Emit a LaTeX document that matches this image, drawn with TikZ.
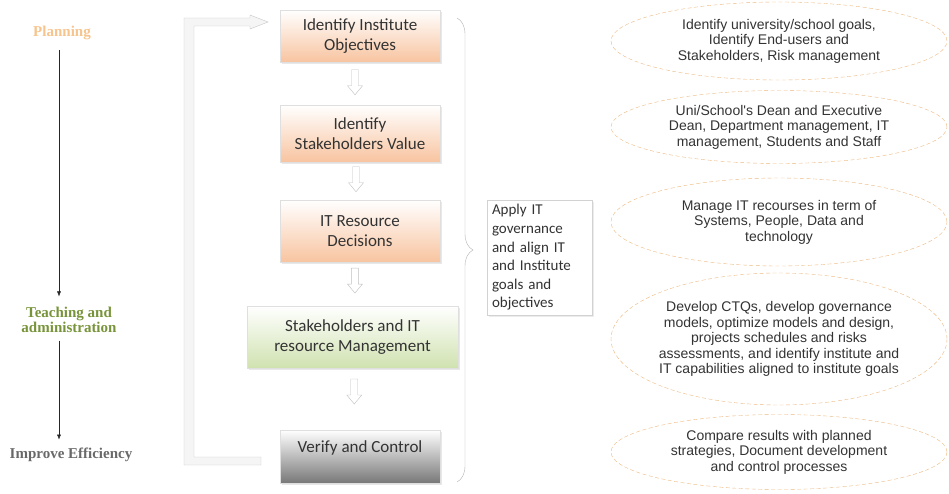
\documentclass[tikz,border=0pt]{standalone}
\usepackage{fontspec}
\setmainfont{Liberation Serif}
\newfontfamily\boxfont{Carlito}
\newfontfamily\notefont{Liberation Sans}
\usetikzlibrary{arrows.meta,positioning,shapes.geometric,shadows,decorations.pathreplacing,calc}

\definecolor{peach}{RGB}{248,196,160}
\definecolor{leaf}{RGB}{208,226,176}
\definecolor{steel}{RGB}{120,120,120}
\definecolor{dashorange}{RGB}{236,184,128}
\definecolor{planc}{RGB}{246,196,140}
\definecolor{teachc}{RGB}{120,148,58}
\definecolor{effc}{RGB}{105,105,105}

% hollow block arrow pointing down, centred on a named coordinate
\newcommand\hollowdown[1]{%
  \draw[gray!50,fill=white] (#1) ++(-3.5,-12) -- ++(7,0) -- ++(0,16) -- ++(4,0)
    -- ++(-7.5,9) -- ++(-7.5,-9) -- ++(4,0) -- cycle;}

\begin{document}
\begin{tikzpicture}[x=1pt,y=-1pt,>=Latex,
  stage/.style={draw=gray!25,minimum width=160pt,align=center,text=black!80,
    font=\boxfont\fontsize{17}{20}\selectfont,inner sep=2pt,
    drop shadow={opacity=0.18,shadow xshift=2pt,shadow yshift=-2pt}},
  orangestage/.style={stage,top color=white,bottom color=peach},
  greenstage/.style={stage,top color=white,bottom color=leaf},
  graystage/.style={stage,top color=white,bottom color=steel},
  note/.style={ellipse,draw=dashorange,dash pattern=on 4pt off 2.5pt,minimum width=336pt,align=center,
    font=\notefont\fontsize{14}{15.6}\selectfont,text=black!80,inner xsep=-8pt,inner ysep=0pt},
  phase/.style={font=\bfseries\fontsize{15}{15.5}\selectfont,align=center},
  flow/.style={->,black!85,>={Latex[length=5pt,width=4pt]}}
]
\useasboundingbox (0,0) rectangle (949,494);

% phases on the left
\node[phase,text=planc] (plan) at (62,33) {Planning};
\node[phase,text=teachc] (teach) at (69,320) {Teaching and\\administration};
\node[phase,text=effc] (eff) at (71,455) {Improve Efficiency};
\coordinate (ax) at (59,0);
\draw[flow,shorten <=7pt,shorten >=7pt] (plan.south -| ax) -- (teach.north -| ax);
\draw[flow,shorten <=4pt,shorten >=5pt] (teach.south -| ax) -- (eff.north -| ax);

% feedback band
\draw[gray!45,fill=gray!8] (184,18) -- (250,18) -- (250,15) -- (268,22) -- (250,29)
  -- (250,26) -- (194,26) -- (194,457) -- (261,457) -- (261,465) -- (184,465) -- cycle;

% process steps
\node[orangestage,minimum height=52pt] (b1) at (360,36) {Identify Institute\\Objectives};
\node[orangestage,minimum height=57pt] (b2) at (360,133.5) {Identify\\Stakeholders Value};
\node[orangestage,minimum height=62pt] (b3) at (360,231) {IT Resource\\Decisions};
\node[greenstage,minimum width=211pt,minimum height=62pt] (b4) at (352.5,337) {Stakeholders and IT\\resource Management};
\node[graystage,minimum height=53pt] (b5) at (360,456.5) {Verify and Control\\\phantom{V}};

\path (b1.south) -- (b2.north) coordinate[pos=0.46,xshift=-5pt] (a1);
\path (b2.south) -- (b3.north) coordinate[pos=0.44,xshift=-4pt] (a2);
\path (b3.south) -- (b4.north) coordinate[pos=0.41,xshift=-2pt] (a3);
\path (b4.south) -- (b5.north) coordinate[pos=0.37,xshift=-1pt] (a4);
\foreach \a in {a1,a2,a3,a4} {\hollowdown{\a}}

% brace and governance note
\draw[gray!60,decorate,decoration={brace,amplitude=16pt}] (457,18) -- (457,482);
\node[draw=gray!35,fill=white,minimum width=105pt,minimum height=115pt,align=left,
  text width=95pt,font=\boxfont\fontsize{15}{18.6}\selectfont,text=black!80,
  drop shadow={opacity=0.15,shadow xshift=2pt,shadow yshift=-2pt}] (gov) at (539.5,257.5)
  {Apply IT\\governance\\and align IT\\and Institute\\goals and\\objectives};

% details
\node[note,minimum height=78pt] (e1) at (779,41) {Identify university/school goals,\\Identify End-users and\\Stakeholders, Risk management};
\node[note,minimum height=73pt] (e2) at (779,127) {Uni/School's Dean and Executive\\Dean, Department management, IT\\management, Students and Staff};
\node[note,minimum height=88pt] (e3) at (779,222) {Manage IT recourses in term of\\Systems, People, Data and\\technology};
\node[note,minimum height=132pt] (e4) at (779,339) {Develop CTQs, develop governance\\models, optimize models and design,\\projects schedules and risks\\assessments, and identify institute and\\IT capabilities aligned to institute goals};
\node[note,minimum height=75pt] (e5) at (779,452) {Compare results with planned\\strategies, Document development\\and control processes};
\end{tikzpicture}
\end{document}
